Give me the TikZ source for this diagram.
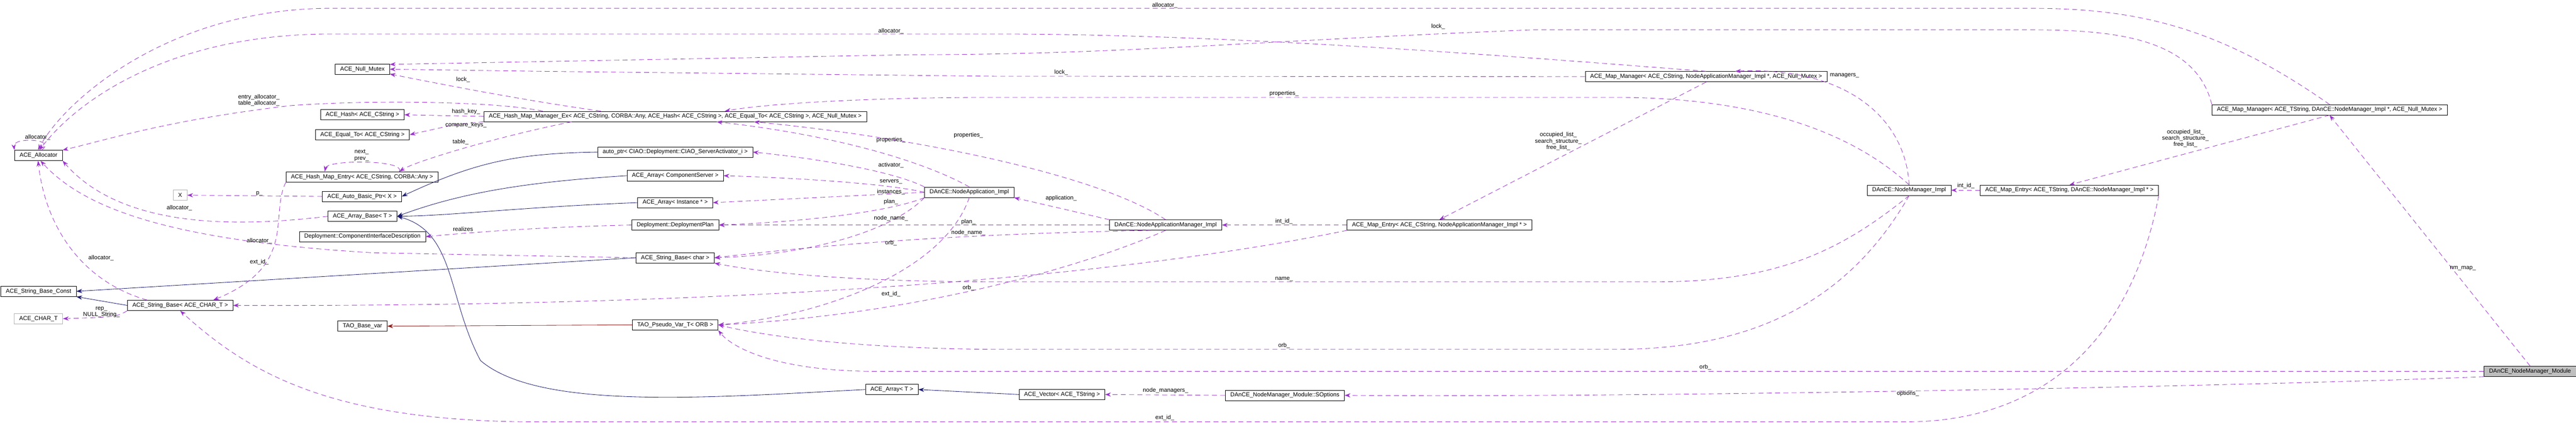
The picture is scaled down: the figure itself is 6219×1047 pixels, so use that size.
\documentclass[tikz,border=0pt]{standalone}
\usepackage{fontspec}
\setmainfont{Liberation Sans}
\usetikzlibrary{arrows.meta}
\definecolor{memcol}{HTML}{9A32CD}
\definecolor{inhcol}{HTML}{191970}
\definecolor{tplcol}{HTML}{8B1A1A}
\tikzset{
  cls/.style={draw, line width=0.25pt, minimum height=2.5mm, inner xsep=1.2mm, inner ysep=0pt, font=\fontsize{4}{4.4}\selectfont},
  ext/.style={cls, draw=gray!60},
  lbl/.style={font=\fontsize{4}{4.4}\selectfont, align=center, inner sep=0pt},
  mem/.style={memcol, dashed, dash pattern=on 1.2mm off 0.8mm, line width=0.3pt, -{Stealth[length=1.4mm, width=1mm]}},
  inh/.style={inhcol, line width=0.3pt, -{Stealth[length=1.4mm, width=1mm]}},
  tpl/.style={tplcol, line width=0.3pt, -{Stealth[length=1.4mm, width=1mm]}}
}
\begin{document}
\begin{tikzpicture}[x=0.1mm, y=-0.1mm]
	\useasboundingbox (0,0) rectangle (6219,1047);
	% Klassen links
	\node[cls] (alloc) at (93,375) {ACE\_Allocator};
	\node[cls] (sbconst) at (93,703) {ACE\_String\_Base\_Const};
	\node[ext] (chart) at (93,769) {ACE\_CHAR\_T};
	\node[ext] (xx) at (435,471) {X};
	\node[cls] (sbacechar) at (435,737) {ACE\_String\_Base< ACE\_CHAR\_T >};
	\node[cls] (nullmutex) at (875,167) {ACE\_Null\_Mutex};
	\node[cls] (hash) at (875,277) {ACE\_Hash< ACE\_CString >};
	\node[cls] (equalto) at (875,325) {ACE\_Equal\_To< ACE\_CString >};
	\node[cls] (hmentry) at (874,427) {ACE\_Hash\_Map\_Entry< ACE\_CString, CORBA::Any >};
	\node[cls] (autobasic) at (874,474) {ACE\_Auto\_Basic\_Ptr< X >};
	\node[cls] (arraybase) at (875,522) {ACE\_Array\_Base< T >};
	\node[cls] (cid) at (875,571) {Deployment::ComponentInterfaceDescription};
	\node[cls] (basevar) at (875,787) {TAO\_Base\_var};
	% Klassen Mitte
	\node[cls] (hmmex) at (1630,281) {ACE\_Hash\_Map\_Manager\_Ex< ACE\_CString, CORBA::Any, ACE\_Hash< ACE\_CString >, ACE\_Equal\_To< ACE\_CString >, ACE\_Null\_Mutex >};
	\node[cls] (autoptr) at (1630,367) {auto\_ptr< CIAO::Deployment::CIAO\_ServerActivator\_i >};
	\node[cls] (arrcs) at (1630,424) {ACE\_Array< ComponentServer >};
	\node[cls] (arrinst) at (1630,489) {ACE\_Array< Instance * >};
	\node[cls] (plan) at (1630,543) {Deployment::DeploymentPlan};
	\node[cls] (sbchar) at (1630,622) {ACE\_String\_Base< char >};
	\node[cls] (pseudo) at (1630,784) {TAO\_Pseudo\_Var\_T< ORB >};
	\node[cls] (arrt) at (2153,940) {ACE\_Array< T >};
	\node[cls] (napp) at (2340,464) {DAnCE::NodeApplication\_Impl};
	\node[cls] (vector) at (2564,952) {ACE\_Vector< ACE\_TString >};
	\node[cls] (nam) at (2814,543) {DAnCE::NodeApplicationManager\_Impl};
	\node[cls] (soptions) at (3102,954) {DAnCE\_NodeManager\_Module::SOptions};
	\node[cls] (entryc) at (3475,543) {ACE\_Map\_Entry< ACE\_CString, NodeApplicationManager\_Impl * >};
	% Klassen rechts
	\node[cls] (mapc) at (4119,185) {ACE\_Map\_Manager< ACE\_CString, NodeApplicationManager\_Impl *, ACE\_Null\_Mutex >};
	\node[cls] (nmimpl) at (4609,459) {DAnCE::NodeManager\_Impl};
	\node[cls] (entryt) at (4996,459) {ACE\_Map\_Entry< ACE\_TString, DAnCE::NodeManager\_Impl * >};
	\node[cls] (mapt) at (5624,265) {ACE\_Map\_Manager< ACE\_TString, DAnCE::NodeManager\_Impl *, ACE\_Null\_Mutex >};
	\node[cls, fill=gray!50] (module) at (6108,896) {DAnCE\_NodeManager\_Module};
	% Vererbung
	\draw[inh] (arrt.west) .. controls (1700,960) and (1300,990) .. (1160,870) .. controls (1080,720) and (1100,560) .. (arraybase.east);
	\draw[inh] (vector.west) -- (arrt.east);
	\draw[inh] (arrcs.west) .. controls (1250,440) and (1100,470) .. (arraybase.east);
	\draw[inh] (arrinst.west) .. controls (1250,500) and (1100,520) .. (arraybase.east);
	\draw[inh] (autoptr.west) .. controls (1250,370) and (1150,390) .. (autobasic.east);
	\draw[inh] (sbchar.west) -- (sbconst.east);
	\draw[inh] (sbacechar.west) -- (sbconst.south east);
	\draw[tpl] (pseudo.west) -- (basevar.east);
	% Beziehungen
	\draw[mem] (module.north) -- (mapt.south);
	\node[lbl] (l1) at (5946,647) {nm\_map\_};
	\draw[mem] (module.south west) .. controls (5500,930) and (4000,960) .. (soptions.east);
	\node[lbl] (l2) at (4606,950) {options\_};
	\draw[mem] (module.west) -- (2100,896) .. controls (1850,893) and (1760,830) .. (pseudo.south east);
	\node[lbl] (l3) at (4117,886) {orb\_};
	\draw[mem] (soptions.west) -- (vector.east);
	\node[lbl] (l4) at (2814,942) {node\_managers\_};
	\draw[mem] (mapt.north) .. controls (5350,60) and (5150,20) .. (4900,20) -- (800,20) .. controls (400,20) and (150,250) .. (alloc.95);
	\node[lbl] (l5) at (2812,13) {allocator\_};
	\draw[mem] (mapt.north west) .. controls (5300,90) and (5100,72) .. (4900,72) -- (3700,72) .. controls (3000,100) and (2700,132) .. (2200,132) -- (nullmutex.10);
	\node[lbl] (l6) at (3472,64) {lock\_};
	\draw[mem] (mapt.south) -- (entryt.north);
	\node[lbl] (l7) at (5276,334) {occupied\_list\_\\search\_structure\_\\free\_list\_};
	\draw[mem] (entryt.west) -- (nmimpl.east);
	\node[lbl] (l8) at (4746,449) {int\_id\_};
	\draw[mem] (entryt.south east) .. controls (5150,800) and (4950,1018) .. (4600,1018) -- (1300,1018) .. controls (800,1018) and (600,900) .. (sbacechar.south);
	\node[lbl] (l9) at (2812,1008) {ext\_id\_};
	\draw[mem] (nmimpl.north) .. controls (4600,280) and (4450,160) .. ([xshift=7mm]mapc.north);
	\node[lbl] (l10) at (4453,182) {managers\_};
	\draw[mem] (nmimpl.north) .. controls (4450,300) and (4200,235) .. (3900,235) -- (2400,235) .. controls (2100,235) and (1850,250) .. ([xshift=12mm]hmmex.north);
	\node[lbl] (l11) at (3100,226) {properties\_};
	\draw[mem] (nmimpl.south) .. controls (4450,600) and (4300,680) .. (4000,680) -- (2400,680) .. controls (2000,680) and (1800,650) .. (sbchar.south east);
	\node[lbl] (l12) at (3100,673) {name\_};
	\draw[mem] (nmimpl.south) .. controls (4450,750) and (4200,843) .. (3900,843) -- (2400,843) .. controls (2000,840) and (1800,800) .. (pseudo.east);
	\node[lbl] (l13) at (3100,834) {orb\_};
	\draw[mem] (mapc.north) .. controls (3700,140) and (3000,82) .. (2400,82) -- (800,82) .. controls (400,82) and (180,250) .. (alloc.80);
	\node[lbl] (l14) at (2151,75) {allocator\_};
	\draw[mem] (mapc.west) -- (2400,184) -- (1300,172) -- (nullmutex.east);
	\node[lbl] (l15) at (2562,175) {lock\_};
	\draw[mem] (mapc.south) -- (entryc.north);
	\node[lbl] (l16) at (3762,341) {occupied\_list\_\\search\_structure\_\\free\_list\_};
	\draw[mem] (entryc.west) -- (nam.east);
	\node[lbl] (l17) at (3100,534) {int\_id\_};
	\draw[mem] (entryc.south west) .. controls (2600,690) and (1600,740) .. (sbacechar.east);
	\node[lbl] (l18) at (2151,709) {ext\_id\_};
	\draw[mem] (nam.north west) -- (napp.south east);
	\node[lbl] (l19) at (2562,478) {application\_};
	\draw[mem] (nam.north) .. controls (2650,420) and (2200,330) .. ([xshift=19mm]hmmex.south);
	\node[lbl] (l20) at (2338,326) {properties\_};
	\draw[mem] (nam.west) -- (plan.east);
	\node[lbl] (l21) at (2338,535) {plan\_};
	\draw[mem] (nam.200) .. controls (2300,565) and (2000,590) .. (sbchar.east);
	\node[lbl] (l22) at (2338,562) {node\_name\_};
	\draw[mem] (nam.south) .. controls (2600,650) and (2200,760) .. (pseudo.east);
	\node[lbl] (l23) at (2338,695) {orb\_};
	\draw[mem] (napp.north) .. controls (2250,400) and (2050,330) .. ([xshift=10mm]hmmex.south);
	\node[lbl] (l24) at (2151,338) {properties\_};
	\draw[mem] (napp.north west) .. controls (2150,410) and (1950,380) .. (autoptr.east);
	\node[lbl] (l25) at (2151,399) {activator\_};
	\draw[mem] (napp.west) .. controls (2150,445) and (1950,430) .. (arrcs.east);
	\node[lbl] (l26) at (2151,439) {servers\_};
	\draw[mem] (napp.west) -- (arrinst.east);
	\node[lbl] (l27) at (2151,463) {instances\_};
	\draw[mem] (napp.south west) .. controls (2150,510) and (1950,535) .. (plan.east);
	\node[lbl] (l28) at (2151,487) {plan\_};
	\draw[mem] (napp.south west) .. controls (2150,560) and (1950,615) .. (sbchar.east);
	\node[lbl] (l29) at (2151,527) {node\_name\_};
	\draw[mem] (napp.south) .. controls (2280,650) and (2000,760) .. (pseudo.east);
	\node[lbl] (l30) at (2151,586) {orb\_};
	\draw[mem] ([xshift=-18mm]hmmex.north) .. controls (1250,240) and (1050,200) .. (nullmutex.-10);
	\node[lbl] (l31) at (1118,192) {lock\_};
	\draw[mem] (hmmex.west) -- (hash.east);
	\node[lbl] (l32) at (1125,270) {hash\_key\_};
	\draw[mem] (hmmex.south west) .. controls (1100,300) .. (equalto.east);
	\node[lbl] (l33) at (1125,302) {compare\_keys\_};
	\draw[mem] ([xshift=-25mm]hmmex.south) .. controls (1200,330) and (1000,390) .. ([xshift=9mm]hmentry.north);
	\node[lbl] (l34) at (1112,343) {table\_};
	\draw[mem] ([xshift=-32mm]hmmex.north) .. controls (1200,245) and (900,240) .. (700,255) .. controls (400,290) and (250,340) .. (alloc.north east);
	\node[lbl] (l35) at (625,242) {entry\_allocator\_\\table\_allocator\_};
	\draw[mem] ([xshift=9mm]hmentry.north) .. controls (980,385) and (790,385) .. ([xshift=-9mm]hmentry.north);
	\node[lbl] (l36) at (873,375) {next\_\\prev\_};
	\draw[mem] (hmentry.south west) .. controls (650,520) and (720,640) .. ([xshift=8mm]sbacechar.north);
	\node[lbl] (l37) at (626,633) {ext\_id\_};
	\draw[mem] (autobasic.west) -- (xx.east);
	\node[lbl] (l38) at (626,467) {p\_};
	\draw[mem] (arraybase.west) .. controls (600,545) and (300,560) .. (alloc.south east);
	\node[lbl] (l39) at (433,502) {allocator\_};
	\draw[mem] (sbchar.west) -- (900,610) .. controls (400,580) and (200,500) .. (alloc.-70);
	\node[lbl] (l40) at (626,581) {allocator\_};
	\draw[mem] ([xshift=-8mm]sbacechar.north) .. controls (200,680) and (110,550) .. (alloc.-95);
	\node[lbl] (l41) at (244,622) {allocator\_};
	\draw[mem] (sbacechar.south west) .. controls (280,765) .. (chart.east);
	\node[lbl] (l42) at (245,753) {rep\_\\NULL\_String\_};
	\draw[mem] (alloc.60) .. controls (140,335) and (30,330) .. (alloc.north west);
	\node[lbl] (l43) at (91,331) {allocator\_};
	\draw[mem] (plan.west) .. controls (1300,548) and (1150,560) .. (cid.east);
	\node[lbl] (l44) at (1118,553) {realizes};
\end{tikzpicture}
\end{document}
